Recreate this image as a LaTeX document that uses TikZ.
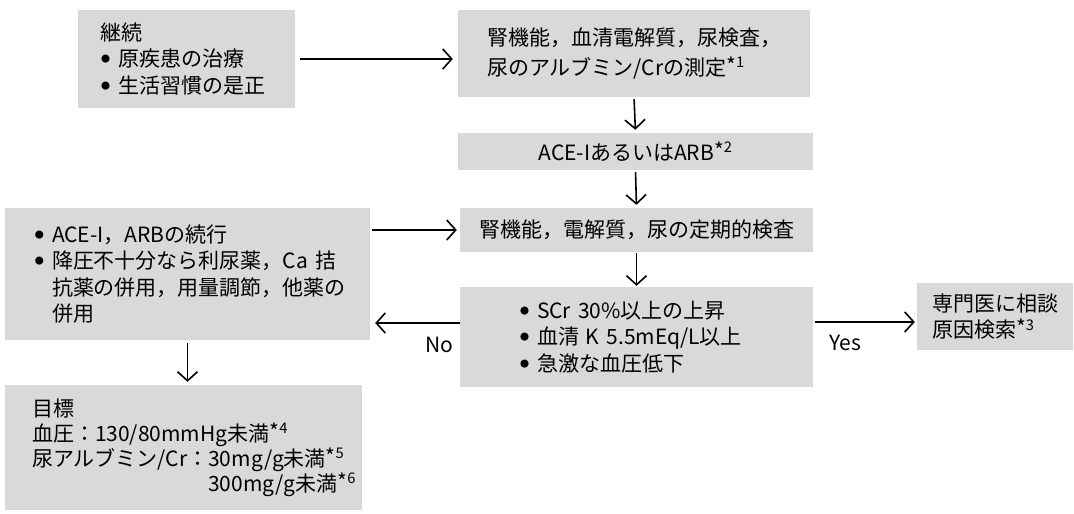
\documentclass[tikz,border=0pt]{standalone}
\usepackage{fontspec}
\setmainfont{Noto Sans CJK JP}
\usetikzlibrary{arrows.meta}
\definecolor{boxgray}{gray}{0.85}
\tikzset{
  box/.style={fill=boxgray, inner sep=0pt, align=left, font=\fontsize{21pt}{26.5pt}\selectfont},
  arr/.style={line width=1.6pt, -{Straight Barb[length=9pt,width=20pt,line width=1.6pt]}},
  lbl/.style={inner sep=0pt, font=\fontsize{21pt}{24pt}\selectfont},
}
\newcommand{\bul}{\hspace*{1pt}\makebox[17pt][l]{\raisebox{4pt}{\fontsize{9pt}{9pt}\selectfont ●}}}
\newcommand{\bulind}{\hspace*{18pt}}
\newcommand{\nt}[1]{\raisebox{2pt}{*}\textsuperscript{#1}}
\begin{document}
\begin{tikzpicture}[x=1pt,y=-1pt]
\useasboundingbox (0,0) rectangle (1074,514);

\node[box, minimum width=217pt, minimum height=98pt, text width=173pt] (b1) at (186.5,59)
  {継続\\ \bul 原疾患の治療\\ \bul 生活習慣の是正};

\node[box, minimum width=352pt, minimum height=87pt, text width=294pt] (b2) at (634,53.5)
  {腎機能，血清電解質，尿検査，\\[3pt] 尿のアルブミン/Crの測定\nt{1}};

\node[box, align=center, minimum width=355pt, minimum height=37pt] (b3) at (635.5,151.5)
  {ACE-IあるいはARB\nt{2}};

\node[box, align=center, minimum width=353pt, minimum height=44pt] (b4) at (636.5,230)
  {腎機能，電解質，尿の定期的検査};

\node[box, minimum width=365pt, minimum height=132pt, text width=307pt] (b5) at (187.5,274)
  {\bul ACE-I，ARBの続行\\
   \bul 降圧不十分なら利尿薬，Ca~拮\\
   \bulind 抗薬の併用，用量調節，他薬の\\
   \bulind 併用};

\node[box, minimum width=353pt, minimum height=100pt, text width=235pt] (b6) at (636.5,337)
  {\bul SCr~30\%以上の上昇\\
   \bul 血清~K~5.5mEq/L以上\\
   \bul 急激な血圧低下};

\node[box, minimum width=156pt, minimum height=67pt, text width=126pt] (b7) at (995,316.5)
  {専門医に相談\\ 原因検索\nt{3}};

\node[box, minimum width=357pt, minimum height=125pt, text width=303pt,
      font=\fontsize{21pt}{25pt}\selectfont] (b8) at (183.5,447.5)
  {目標\\
   血圧：130/80mmHg未満\nt{4}\\
   尿アルブミン/Cr：30mg/g未満\nt{5}\\
   \hphantom{尿アルブミン/Cr：}300mg/g未満\nt{6}};

% connectors
\draw[arr, shorten <=5pt, shorten >=5pt] (b1.east) -- (b1.east -| b2.west);
\draw[arr, shorten <=2pt, shorten >=3pt] (b2.south) -- (b3.north);
\draw[arr, shorten <=2pt, shorten >=3pt] (b3.south) -- (b4.north);
\draw[arr, shorten <=2pt, shorten >=3pt] (b5.east |- b4.west) -- (b4.west);
\draw[arr, shorten <=1pt, shorten >=1pt] (b4.south) -- (b6.north);
\coordinate (nostart) at ([yshift=14pt]b6.west);
\draw[arr, shorten >=5pt] (nostart) -- (nostart -| b5.east);
\coordinate (yesstart) at ([yshift=15pt]b6.east);
\draw[arr, shorten <=2pt, shorten >=2pt] (yesstart) -- (yesstart -| b7.west);
\draw[arr, shorten <=3pt, shorten >=3pt] (b5.south) -- (b5.south |- b8.north);

\node[lbl] (lno) at (439,345) {No};
\node[lbl] (lyes) at (845,343) {Yes};
\end{tikzpicture}
\end{document}
